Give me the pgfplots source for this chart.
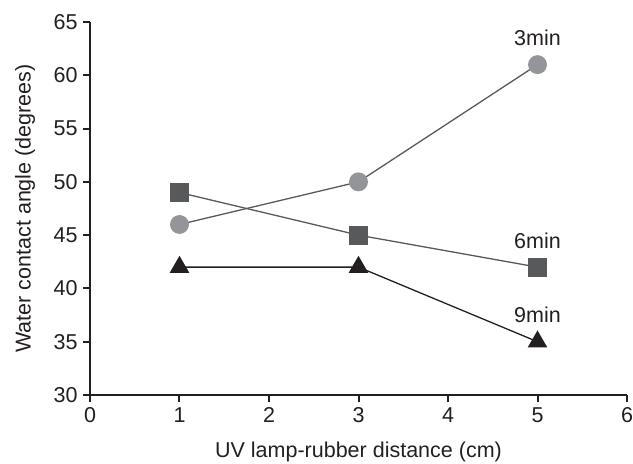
\documentclass[border=0pt]{standalone}
\usepackage{pgfplots}
\pgfplotsset{compat=1.18}
\usetikzlibrary{calc}
\usepackage{fontspec}
\setmainfont{Liberation Sans}
\definecolor{lgray}{HTML}{939598}
\definecolor{dgray}{HTML}{58595B}
\definecolor{blk}{HTML}{231F20}
\begin{document}
\begin{tikzpicture}
\begin{axis}[
  scale only axis, width=537pt, height=373pt,
  xmin=0, xmax=6, ymin=30, ymax=65,
  xtick={0,...,6}, ytick={30,35,...,65},
  axis lines*=left,
  axis line style={line width=2.5pt, blk},
  tick style={line width=2pt, blk},
  tick align=outside, major tick length=7pt,
  font=\fontsize{21.5}{25}\selectfont,
  text=blk,
  /pgf/number format/assume math mode=true,
  xticklabel style={yshift=-2pt},
  yticklabel style={xshift=-2pt},
  xlabel={UV lamp-rubber distance (cm)},
  ylabel={Water contact angle (degrees)},
  xlabel style={at={(axis description cs:0.5,0)}, anchor=center, yshift=-57pt},
  ylabel style={at={(axis description cs:0,0.5)}, anchor=center, yshift=65pt},
  clip=false,
]
\addplot[dgray, line width=1.3pt, mark=*, mark size=8.8pt, mark options={fill=lgray, draw=lgray}] coordinates {(1,46) (3,50) (5,61)};
\addplot[dgray, line width=1.3pt, mark=square*, mark size=8.8pt, mark options={fill=dgray, draw=dgray}] coordinates {(1,49) (3,45) (5,42)};
\addplot[blk, line width=1.3pt, mark=triangle*, mark size=10pt, mark options={fill=blk, draw=blk}] coordinates {(1,42) (3,42) (5,35)};
\node[anchor=base, inner sep=0pt] at (axis cs:5,62.84) {3min};
\node[anchor=base, inner sep=0pt] at (axis cs:5,43.79) {6min};
\node[anchor=base, inner sep=0pt] at (axis cs:5,36.85) {9min};
\end{axis}
\pgfresetboundingbox
\path[use as bounding box] ($(current axis.south west)+(-90pt,-68pt)$) rectangle ($(current axis.north east)+(6pt,22pt)$);
\end{tikzpicture}
\end{document}
